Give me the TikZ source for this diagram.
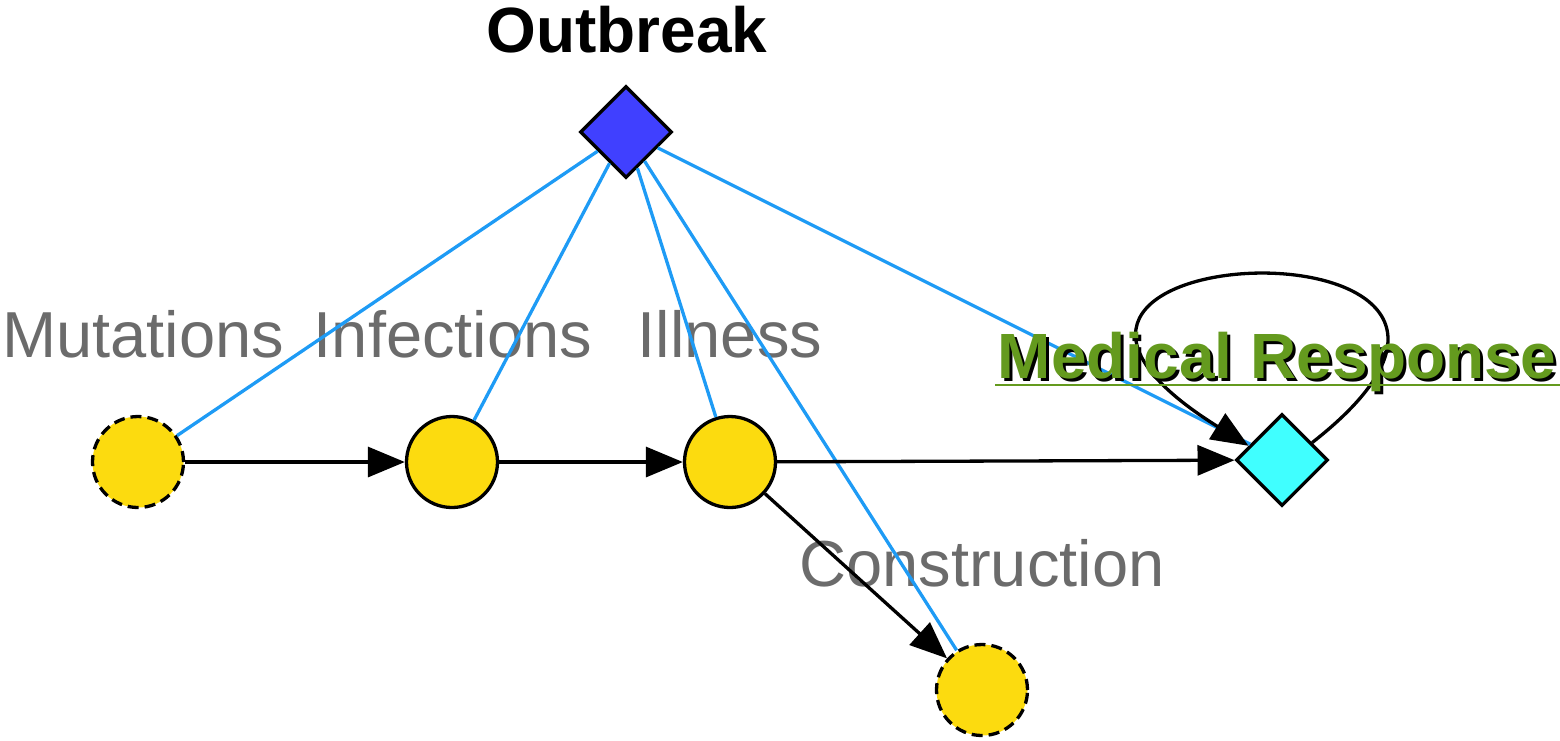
\documentclass[tikz,border=0pt]{standalone}
\usepackage{fontspec}
\setmainfont{Liberation Sans}
\usepackage{xcolor}
\usetikzlibrary{shapes.geometric,arrows.meta}

\definecolor{nodeyellow}{RGB}{252,219,15}
\definecolor{outblue}{RGB}{64,64,255}
\definecolor{medcyan}{RGB}{64,255,255}
\definecolor{linkblue}{RGB}{30,155,245}
\definecolor{labelgray}{RGB}{107,107,107}
\definecolor{medgreen}{RGB}{100,154,30}

\newcommand{\shadowtext}[1]{\makebox[0pt][l]{\hspace{0.3mm}\raisebox{-0.3mm}{\color{black}#1}}#1}

\tikzset{
  var/.style={circle,draw,line width=0.33mm,fill=nodeyellow,minimum size=9.1mm,inner sep=0pt},
  hidden/.style={var,dash pattern=on 1.1mm off 0.6mm},
  dec/.style={diamond,draw,line width=0.33mm,minimum size=9.2mm,inner sep=0pt},
  arc/.style={-{Triangle[length=3.7mm,width=3mm]},line width=0.33mm},
  link/.style={linkblue,line width=0.33mm},
  lbl/.style={labelgray,font=\fontsize{18.5}{22}\selectfont,anchor=base,inner sep=0pt},
}

\begin{document}
\begin{tikzpicture}[x=0.1mm,y=-0.1mm]
\useasboundingbox (0,0) rectangle (1560,740);
% nodes
\node[dec,fill=outblue] (outbreak) at (626,132) {};
\node[hidden] (mutations) at (138,462) {};
\node[var] (infections) at (452,462) {};
\node[var] (illness) at (730,462) {};
\node[hidden] (construction) at (982,690) {};
\node[dec,fill=medcyan] (medical) at (1282,460) {};
% labels
\node[anchor=base,inner sep=0pt,font=\bfseries\fontsize{18.2}{22}\selectfont] (outbreaklbl) at (627,52) {Outbreak};
\node[lbl] (mutationslbl) at (143,357) {Mutations};
\node[lbl] (infectionslbl) at (453,357) {Infections};
\node[lbl] (illnesslbl) at (730,357) {Illness};
\node[lbl] (constructionlbl) at (982,586) {Construction};
% links from the outbreak
\foreach \n in {mutations,infections,illness,construction,medical}
  \draw[link] (outbreak) -- (\n);
% arcs
\draw[arc] (mutations) -- (infections);
\draw[arc] (infections) -- (illness);
\draw[arc] (illness) -- (medical);
\draw[arc] (illness) -- (construction);
\draw[arc] (medical.30) .. controls +(300,-235) and +(-345,-215) .. (medical.157);
% medical response label
\node[anchor=base,inner sep=0pt,medgreen,font=\bfseries\fontsize{18.2}{22}\selectfont] (medicallbl) at (1277,378) {\shadowtext{Medical Response}};
\draw[medgreen,line width=0.25mm] ([yshift=-0.7mm,xshift=-0.2mm]medicallbl.base west) -- ([yshift=-0.7mm,xshift=0.3mm]medicallbl.base east);
\end{tikzpicture}
\end{document}
